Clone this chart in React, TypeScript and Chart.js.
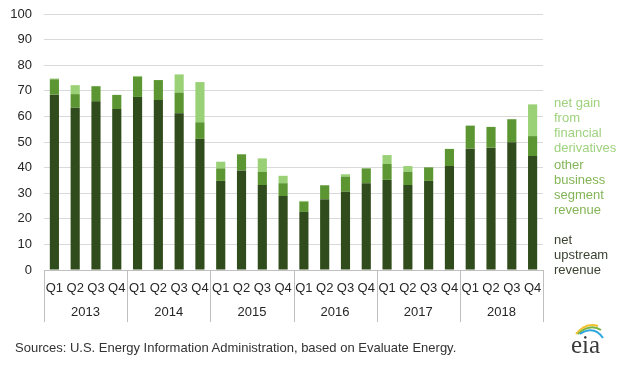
import React, { useEffect, useRef } from "react";
import { Chart, registerables } from "chart.js";

Chart.register(...registerables);

const quarters = [
  "Q1", "Q2", "Q3", "Q4", "Q1", "Q2", "Q3", "Q4", "Q1", "Q2", "Q3", "Q4",
  "Q1", "Q2", "Q3", "Q4", "Q1", "Q2", "Q3", "Q4", "Q1", "Q2", "Q3", "Q4",
];
const years = ["2013", "2014", "2015", "2016", "2017", "2018"];

const netUpstream = [
  68.5, 63.4, 65.9, 62.9, 67.6, 66.4, 61.2, 51.2,
  34.8, 38.9, 33.2, 28.9, 22.7, 27.6, 30.6, 33.9,
  35.2, 33.2, 34.8, 40.6, 47.4, 47.8, 49.9, 44.5,
];
const otherSegment = [
  6.0, 5.3, 5.9, 5.5, 7.9, 7.8, 8.1, 6.5,
  4.9, 6.3, 5.2, 5.0, 4.0, 5.5, 5.9, 5.8,
  6.2, 5.2, 5.3, 6.7, 9.0, 8.1, 9.0, 7.8,
];
const netGain = [
  0.3, 3.5, 0, 0, 0.3, 0, 7.1, 15.7,
  2.6, 0, 5.2, 2.9, 0.3, 0, 0.9, 0,
  3.5, 2.2, 0, 0, 0, 0, 0, 12.4,
];

const yTicksMax = 100;
const yTicksStep = 10;

const seriesNames = [
  "net upstream revenue",
  "other business segment revenue",
  "net gain from financial derivatives",
];
const barColors = ["#314c1c", "#5c9632", "#9ad176"];

const FONT = "'Liberation Sans', Arial, sans-serif";

const separatorPlugin = {
  id: "yearSeparators",
  afterDraw(chart: any) {
    const x = chart.scales.x;
    const x2 = chart.scales.x2;
    const area = chart.chartArea;
    const ctx = chart.ctx;
    ctx.save();
    ctx.strokeStyle = "#bfbfbf";
    ctx.lineWidth = 1;
    for (let i = 0; i <= years.length; i++) {
      let px: number;
      if (i === 0) px = area.left;
      else if (i === years.length) px = area.right;
      else px = (x.getPixelForValue(4 * i - 1) + x.getPixelForValue(4 * i)) / 2;
      px = Math.round(px) + 0.5;
      ctx.beginPath();
      ctx.moveTo(px, area.bottom);
      ctx.lineTo(px, x2.bottom);
      ctx.stroke();
    }
    ctx.restore();
  },
};

function ChartCanvas() {
  const ref = useRef<HTMLCanvasElement | null>(null);
  useEffect(() => {
    if (!ref.current) return;
    const chart = new Chart(ref.current, {
      type: "bar",
      data: {
        labels: quarters,
        datasets: [
          { label: seriesNames[0], data: netUpstream, backgroundColor: barColors[0] },
          { label: seriesNames[1], data: otherSegment, backgroundColor: barColors[1] },
          { label: seriesNames[2], data: netGain, backgroundColor: barColors[2] },
        ],
      },
      options: {
        animation: false,
        responsive: false,
        maintainAspectRatio: false,
        layout: { padding: { left: 0, right: 85, top: 14, bottom: 43 } },
        datasets: { bar: { categoryPercentage: 1, barPercentage: 0.44, borderWidth: 0 } },
        plugins: { legend: { display: false }, tooltip: { enabled: false } },
        scales: {
          x: {
            stacked: true,
            offset: true,
            grid: { display: false, drawTicks: false },
            border: { display: true, color: "#bfbfbf" },
            ticks: {
              padding: 11,
              maxRotation: 0,
              autoSkip: false,
              color: "#262626",
              font: { family: FONT, size: 13 },
            },
            afterFit: (s: any) => { s.height = 28; s.paddingLeft = 0; s.paddingRight = 0; },
          },
          x2: {
            type: "category",
            labels: years,
            position: "bottom",
            offset: true,
            grid: { display: false, drawTicks: false },
            border: { display: false },
            ticks: {
              padding: 7,
              maxRotation: 0,
              autoSkip: false,
              color: "#262626",
              font: { family: FONT, size: 13 },
            },
            afterFit: (s: any) => { s.height = 24; s.paddingLeft = 0; s.paddingRight = 0; },
          },
          y: {
            stacked: true,
            min: 0,
            max: yTicksMax,
            grid: { color: "#d9d9d9", lineWidth: 1, drawTicks: false },
            border: { display: false },
            ticks: {
              stepSize: yTicksStep,
              padding: 12,
              color: "#262626",
              font: { family: FONT, size: 13 },
            },
            afterFit: (s: any) => { s.width = 44; s.paddingTop = 0; s.paddingBottom = 0; },
          },
        },
      },
      plugins: [separatorPlugin],
    } as any);
    return () => chart.destroy();
  }, []);
  return <canvas ref={ref} width={628} height={365} style={{ display: "block" }} />;
}

const legendBlocks = [
  { lines: ["net gain", "from", "financial", "derivatives"], color: "#9fd27e", top: 95 },
  { lines: ["other", "business", "segment", "revenue"], color: "#84b556", top: 157 },
  { lines: ["net", "upstream", "revenue"], color: "#3a4230", top: 232 },
];

export default function App() {
  return (
    <div
      style={{
        position: "fixed",
        left: 0,
        top: 0,
        width: 628,
        height: 365,
        background: "#ffffff",
        fontFamily: FONT,
      }}
    >
      <ChartCanvas />
      {legendBlocks.map((b, i) => (
        <div
          key={i}
          style={{
            position: "absolute",
            left: 554,
            top: b.top,
            color: b.color,
            fontSize: 13,
            lineHeight: "15px",
          }}
        >
          {b.lines.map((l, j) => (
            <div key={j}>{l}</div>
          ))}
        </div>
      ))}
      <div
        style={{
          position: "absolute",
          left: 15,
          top: 339,
          fontSize: 13,
          lineHeight: "17px",
          color: "#333333",
          whiteSpace: "nowrap",
        }}
      >
        Sources: U.S. Energy Information Administration, based on Evaluate Energy.
      </div>
      <svg
        width={40}
        height={40}
        viewBox="0 0 40 40"
        style={{ position: "absolute", left: 568, top: 320 }}
      >
        <path d="M8 14 Q18 2 30 6" stroke="#f2c230" strokeWidth={2} fill="none" />
        <path d="M10 14 Q22 3 33 10" stroke="#7cb342" strokeWidth={2} fill="none" />
        <path d="M12 14 Q26 5 35 18" stroke="#2ea7e0" strokeWidth={2} fill="none" />
        <text
          x={3}
          y={33}
          fontFamily="'Liberation Serif', 'DejaVu Serif', serif"
          fontSize={25}
          fill="#3a3a3a"
        >
          eia
        </text>
      </svg>
    </div>
  );
}
